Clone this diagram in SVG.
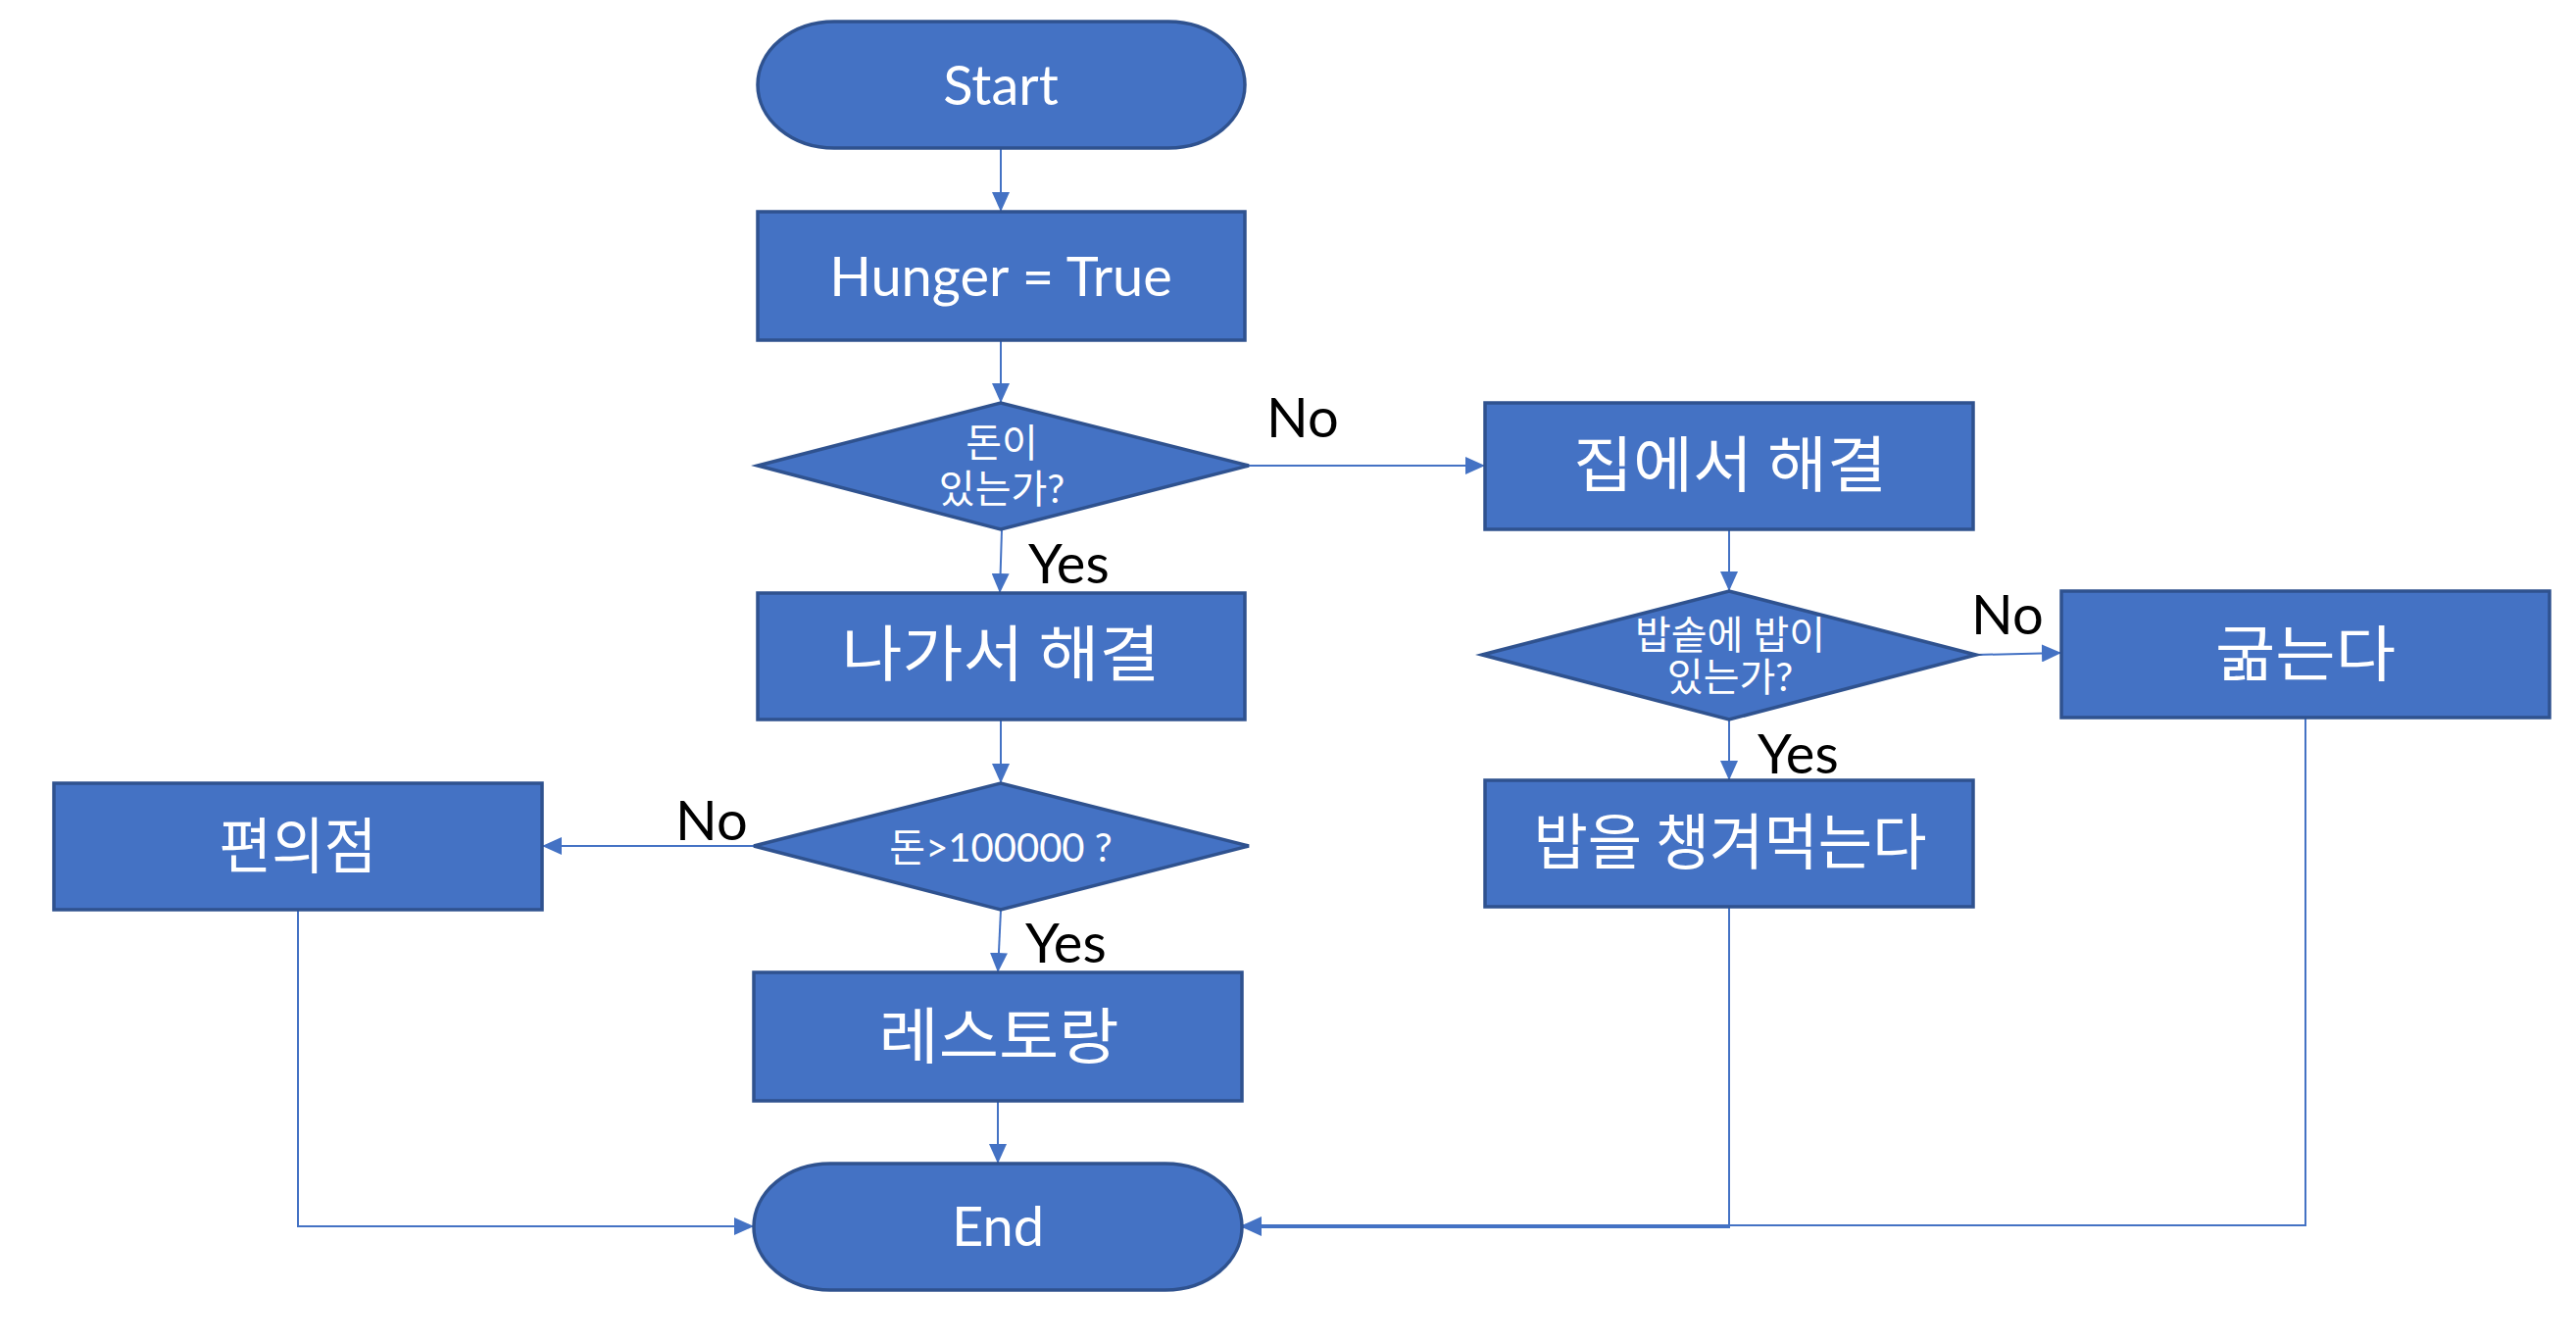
<svg xmlns="http://www.w3.org/2000/svg" width="2628" height="1368" viewBox="0 0 2628 1368">
<defs>
<marker id="arr" markerUnits="userSpaceOnUse" markerWidth="20" markerHeight="18" refX="20" refY="9" orient="auto">
<path d="M0,0 L20,9 L0,18 Z" fill="#4472C4"/>
</marker>
<style>
.shape{fill:#4472C4;stroke:#2F528F;stroke-width:3.5}
.conn{fill:none;stroke:#4472C4;stroke-width:2}
.lat{font-family:"Lato","Open Sans",sans-serif;font-size:56px;fill:#FFFFFF;text-anchor:middle}
.kr{font-family:"Noto Sans CJK KR","Noto Sans",sans-serif;font-size:62px;fill:#FFFFFF;text-anchor:middle}
.krs{font-family:"Lato","Noto Sans CJK KR",sans-serif;font-size:40px;fill:#FFFFFF;text-anchor:middle}
.lbl{font-family:"Lato","Open Sans",sans-serif;font-size:56px;fill:#000000}
</style>
</defs>
<rect width="2628" height="1368" fill="#FFFFFF"/>
<g id="connectors">
<path class="conn" d="M1021,151 V216" marker-end="url(#arr)"/>
<path class="conn" d="M1021,347 V411" marker-end="url(#arr)"/>
<path class="conn" d="M1022,540 L1020,605" marker-end="url(#arr)"/>
<path class="conn" d="M1274,475 H1515" marker-end="url(#arr)"/>
<path class="conn" d="M1021,734 V799" marker-end="url(#arr)"/>
<path class="conn" d="M769,863 H553" marker-end="url(#arr)"/>
<path class="conn" d="M1021,928 L1018,992" marker-end="url(#arr)"/>
<path class="conn" d="M1018,1123 V1187" marker-end="url(#arr)"/>
<path class="conn" d="M304,928 V1251 H769" marker-end="url(#arr)"/>
<path class="conn" d="M1764,540 V603" marker-end="url(#arr)"/>
<path class="conn" d="M2016,668 L2103,666" marker-end="url(#arr)"/>
<path class="conn" d="M1764,734 V796" marker-end="url(#arr)"/>
<path class="conn" d="M1764,925 V1252 H1267" marker-end="url(#arr)"/>
<path class="conn" d="M2352,732 V1250 H1267" marker-end="url(#arr)"/>
<text class="lbl" x="1292" y="446">No</text>
<text class="lbl" x="1049" y="595">Yes</text>
<text class="lbl" x="689" y="857">No</text>
<text class="lbl" x="1046" y="982">Yes</text>
<text class="lbl" x="2011" y="647">No</text>
<text class="lbl" x="1793" y="789">Yes</text>
</g>
<g id="start">
<path class="shape" d="M851,22 H1192 A78,64.5 0 0 1 1192,151 H851 A78,64.5 0 0 1 851,22 Z"/>
<text class="lat" x="1021" y="107">Start</text>
</g>
<g id="hunger">
<rect class="shape" x="773" y="216" width="497" height="131"/>
<text class="lat" x="1021" y="302">Hunger = True</text>
</g>
<g id="money">
<polygon class="shape" points="773,475 1021,411 1274,475 1021,540"/>
<text class="krs" x="1022" y="466">돈이</text>
<text class="krs" x="1022" y="513">있는가?</text>
</g>
<g id="goout">
<rect class="shape" x="773" y="605" width="497" height="129"/>
<text class="kr" x="1021" y="690" textLength="325" lengthAdjust="spacingAndGlyphs">나가서 해결</text>
</g>
<g id="money100000">
<polygon class="shape" points="769,863 1021,799 1274,863 1021,928"/>
<text class="krs" x="1021" y="879">돈&gt;100000 ?</text>
</g>
<g id="conv">
<rect class="shape" x="55" y="799" width="498" height="129"/>
<text class="kr" x="304" y="886" textLength="161" lengthAdjust="spacingAndGlyphs">편의점</text>
</g>
<g id="restaurant">
<rect class="shape" x="769" y="992" width="498" height="131"/>
<text class="kr" x="1019" y="1080" textLength="245" lengthAdjust="spacingAndGlyphs">레스토랑</text>
</g>
<g id="end">
<path class="shape" d="M847,1187 H1189 A78,64.5 0 0 1 1189,1316 H847 A78,64.5 0 0 1 847,1187 Z"/>
<text class="lat" x="1018" y="1271">End</text>
</g>
<g id="home">
<rect class="shape" x="1515" y="411" width="498" height="129"/>
<text class="kr" x="1765" y="497" textLength="320" lengthAdjust="spacingAndGlyphs">집에서 해결</text>
</g>
<g id="rice">
<polygon class="shape" points="1512,668 1764,603 2016,668 1764,734"/>
<text class="krs" x="1765" y="662">밥솥에 밥이</text>
<text class="krs" x="1765" y="705">있는가?</text>
</g>
<g id="starve">
<rect class="shape" x="2103" y="603" width="498" height="129"/>
<text class="kr" x="2352" y="690" textLength="184" lengthAdjust="spacingAndGlyphs">굶는다</text>
</g>
<g id="eat">
<rect class="shape" x="1515" y="796" width="498" height="129"/>
<text class="kr" x="1765" y="882" textLength="401" lengthAdjust="spacingAndGlyphs">밥을 챙겨먹는다</text>
</g>
</svg>
